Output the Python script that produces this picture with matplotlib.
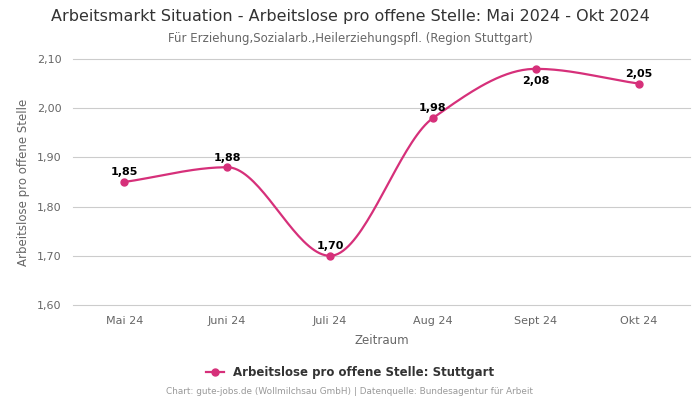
import numpy as np
import matplotlib
matplotlib.use("Agg")
import matplotlib.pyplot as plt
from matplotlib.lines import Line2D

months = ["Mai 24", "Juni 24", "Juli 24", "Aug 24", "Sept 24", "Okt 24"]
values = [1.85, 1.88, 1.70, 1.98, 2.08, 2.05]
yticks = [1.60, 1.70, 1.80, 1.90, 2.00, 2.10]

color = "#d6307a"


def monotone_curve(x, y, n=40):
    # Fritsch-Carlson monotone cubic interpolation
    x = np.asarray(x, float)
    y = np.asarray(y, float)
    h = np.diff(x)
    d = np.diff(y) / h
    m = np.zeros_like(y)
    m[0], m[-1] = d[0], d[-1]
    for i in range(1, len(y) - 1):
        if d[i - 1] * d[i] <= 0:
            m[i] = 0
        else:
            w1 = 2 * h[i] + h[i - 1]
            w2 = h[i] + 2 * h[i - 1]
            m[i] = (w1 + w2) / (w1 / d[i - 1] + w2 / d[i])
    xs, ys = [], []
    for i in range(len(h)):
        t = np.linspace(0, 1, n)
        h00 = 2 * t**3 - 3 * t**2 + 1
        h10 = t**3 - 2 * t**2 + t
        h01 = -2 * t**3 + 3 * t**2
        h11 = t**3 - t**2
        xs.append(x[i] + t * h[i])
        ys.append(h00 * y[i] + h10 * h[i] * m[i] + h01 * y[i + 1] + h11 * h[i] * m[i + 1])
    return np.concatenate(xs), np.concatenate(ys)


fig = plt.figure(figsize=(7, 4), dpi=100)
ax = fig.add_axes([0.104, 0.2375, 0.882, 0.615])

xpos = np.arange(len(months))
cx, cy = monotone_curve(xpos, values)
ax.plot(cx, cy, color=color, lw=1.6, zorder=3)
ax.plot(xpos, values, "o", color=color, ms=5, zorder=4)

for i, v in enumerate(values):
    below = i == int(np.argmax(values))
    ax.annotate(f"{v:.2f}".replace(".", ","), (i, v),
                xytext=(0, -9 if below else 7), textcoords="offset points",
                ha="center", va="center", fontsize=8, fontweight="bold", color="black")

ax.set_xlim(-0.5, len(months) - 0.5)
ax.set_ylim(1.60, 2.10)
ax.set_xticks(xpos)
ax.set_xticklabels(months)
ax.set_yticks(yticks)
ax.set_yticklabels([f"{t:.2f}".replace(".", ",") for t in yticks])
ax.tick_params(axis="both", length=0, labelsize=8, labelcolor="#666666", pad=8)
for t in yticks:
    ax.axhline(t, color="#cccccc", lw=0.8, zorder=1, clip_on=False)
for s in ax.spines.values():
    s.set_visible(False)

ax.set_xlabel("Zeitraum", fontsize=8.5, color="#666666", labelpad=6)
ax.set_ylabel("Arbeitslose pro offene Stelle", fontsize=8.5, color="#666666", labelpad=5)

fig.text(0.5, 0.958, "Arbeitsmarkt Situation - Arbeitslose pro offene Stelle: Mai 2024 - Okt 2024",
         ha="center", va="center", fontsize=11.5, color="#333333")
fig.text(0.5, 0.903, "Für Erziehung,Sozialarb.,Heilerziehungspfl. (Region Stuttgart)",
         ha="center", va="center", fontsize=8.5, color="#666666")

handle = Line2D([0], [0], color=color, lw=1.6, marker="o", ms=5)
fig.legend([handle], ["Arbeitslose pro offene Stelle: Stuttgart"], loc="center",
           bbox_to_anchor=(0.5, 0.068), frameon=False, handlelength=1.5,
           prop={"size": 8.5, "weight": "bold"}, labelcolor="#333333")

fig.text(0.5, 0.02, "Chart: gute-jobs.de (Wollmilchsau GmbH) | Datenquelle: Bundesagentur für Arbeit",
         ha="center", va="center", fontsize=6.4, color="#999999")

fig.savefig("out.png", dpi=100)
